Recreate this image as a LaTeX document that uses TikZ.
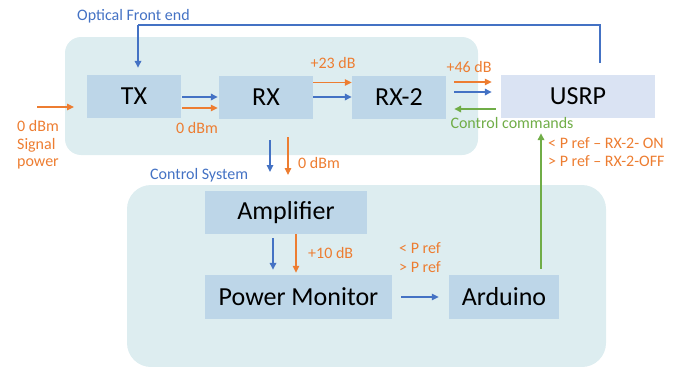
\documentclass[tikz,border=0pt]{standalone}
\usepackage{fontspec}
\setmainfont{Carlito}
\usetikzlibrary{arrows.meta,calc}
\definecolor{bgteal}{HTML}{DDEDF0}
\definecolor{boxblue}{HTML}{BDD6E8}
\definecolor{usrpcol}{HTML}{DAE3F3}
\definecolor{lblue}{HTML}{4472C4}
\definecolor{lorange}{HTML}{ED7D31}
\definecolor{lgreen}{HTML}{70AD47}
\tikzset{
  region/.style={fill=bgteal,draw=none,rounded corners=16pt},
  blk/.style={fill=boxblue,draw=none,inner sep=0pt,font=\fontsize{26}{30}\selectfont,text=black},
  small/.style={inner sep=0pt,font=\fontsize{16}{19}\selectfont},
  tip/.style={-{Triangle[length=7pt,width=6.5pt]}},
  barrow/.style={tip,draw=lblue,line width=1.6pt},
  oarrow/.style={tip,draw=lorange,line width=1.1pt},
  garrow/.style={tip,draw=lgreen,line width=1.6pt},
  bline/.style={draw=lblue,line width=1.6pt},
}
\begin{document}
\begin{tikzpicture}[x=1pt,y=-1pt]
\useasboundingbox (0,0) rectangle (673,367);
% regions
\path[region] (65,37) rectangle (478,155);
\path[region,rounded corners=24pt] (127,185) rectangle (606,367);
\coordinate (ofeS) at (270,155);
% blocks
\node[blk,minimum width=94pt,minimum height=43pt] (tx) at (134,96.5) {TX};
\node[blk,minimum width=94pt,minimum height=43pt] (rx) at (266,97) {RX};
\node[blk,minimum width=94pt,minimum height=43pt] (rx2) at (399,97.5) {RX-2};
\node[blk,fill=usrpcol,minimum width=154pt,minimum height=43pt] (usrp) at (578,96.5) {USRP};
\node[blk,minimum width=162pt,minimum height=43pt] (amp) at (286,212.5) {Amplifier};
\node[blk,minimum width=187pt,minimum height=44pt] (pm) at (298.5,297) {Power Monitor};
\node[blk,minimum width=110pt,minimum height=44pt] (ard) at (504,297) {Arduino};
% labels
\node[small,text=lblue,anchor=west] (lofe) at (77,16) {Optical Front end};
\node[small,text=lblue,anchor=west] (lcs) at (150,175) {Control System};
\node[small,text=lorange] (l0a) at (197,128) {0 dBm};
\node[small,text=lorange] (l23) at (333,63) {+23 dB};
\node[small,text=lorange] (l46) at (469,67) {+46 dB};
\node[small,text=lgreen] (lcc) at (512,123) {Control commands};
\node[small,text=lorange,anchor=west] (lon) at (548,143) {< P ref – RX-2- ON};
\node[small,text=lorange,anchor=west] (loff) at (548,161) {> P ref – RX-2-OFF};
\node[small,text=lorange,anchor=west,align=left] (lin1) at (17,126) {0 dBm};
\node[small,text=lorange,anchor=west] (lin2) at (17,145) {Signal};
\node[small,text=lorange,anchor=west] (lin3) at (17,164) {power};
\node[small,text=lorange,anchor=west] (l0b) at (298,163) {0 dBm};
\node[small,text=lorange,anchor=west] (l10) at (308,253) {+10 dB};
\node[small,text=lorange,anchor=west] (lp1) at (399,248) {< P ref};
\node[small,text=lorange,anchor=west] (lp2) at (399,267) {> P ref};
% feedback line
\coordinate (fbs) at (600,63);
\coordinate (fbc) at (138,25);
\draw[bline] (fbs) |- (fbc);
\draw[barrow,shorten >=7pt] (fbc) -- (tx.north -| fbc);
% input
\coordinate (ins) at (37,107);
\coordinate (ine) at (74,107);
\draw[oarrow] (ins) -- (ine);
% TX -> RX
\draw[barrow,shorten <=1pt,shorten >=1pt] (tx.east |- 0,97) -- (rx.west |- 0,97);
\draw[oarrow,shorten <=1pt,shorten >=1pt] (tx.east |- 0,108) -- (rx.west |- 0,108);
% RX -> RX-2
\draw[barrow] (rx.east |- 0,97) -- (rx2.west |- 0,97);
\draw[oarrow] (rx.east |- 0,82.5) -- (rx2.west |- 0,82.5);
% RX-2 -> USRP
\draw[oarrow,shorten <=8pt,shorten >=9pt] (rx2.east |- 0,82) -- (usrp.west |- 0,82);
\draw[barrow,shorten <=8pt,shorten >=9pt] (rx2.east |- 0,92) -- (usrp.west |- 0,92);
\draw[garrow,shorten <=5pt,shorten >=8pt] (usrp.west |- 0,109) -- (rx2.east |- 0,109);
% Optical front end -> control system
\coordinate (d1s) at (270,140); \coordinate (d1e) at (270,172);
\coordinate (d2s) at (288,137); \coordinate (d2e) at (288,175);
\draw[barrow] (d1s) -- (d1e);
\draw[oarrow] (d2s) -- (d2e);
% Amplifier -> Power Monitor
\draw[barrow,shorten <=4pt,shorten >=5pt] (amp.south -| 273,0) -- (pm.north -| 273,0);
\draw[oarrow,shorten >=2pt] (amp.south -| 296,0) -- (pm.north -| 296,0);
% Power Monitor -> Arduino
\draw[tip,draw=lblue,line width=1.2pt,shorten <=9pt,shorten >=10pt] (pm.east |- 0,297) -- (ard.west |- 0,297);
% Arduino -> USRP
\draw[garrow,shorten <=6pt,shorten >=15pt] (ard.north -| 541,0) -- (usrp.south -| 541,0);
\end{tikzpicture}
\end{document}
